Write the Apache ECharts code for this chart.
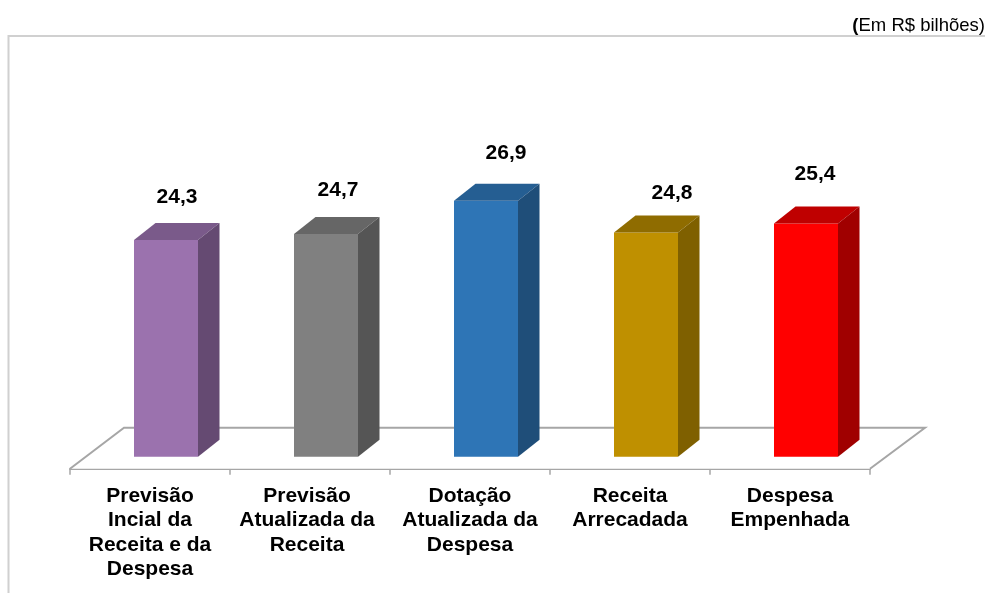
<!DOCTYPE html>
<html>
<head>
<meta charset="utf-8">
<style>html,body{margin:0;padding:0;background:#fff}#c{width:985px;height:593px}</style>
<script src="https://cdn.jsdelivr.net/npm/echarts@6/dist/echarts.min.js"></script>
</head>
<body>
<div id="c"></div>
<script>
const categories = [
  'Previsão\nIncial da\nReceita e da\nDespesa',
  'Previsão\nAtualizada da\nReceita',
  'Dotação\nAtualizada da\nDespesa',
  'Receita\nArrecadada',
  'Despesa\nEmpenhada'
];
const values = [24.3, 24.7, 26.9, 24.8, 25.4];
const valueLabels = ['24,3', '24,7', '26,9', '24,8', '25,4'];
const frontColors = ['#9B72AE', '#808080', '#2E75B6', '#BF9000', '#FF0000'];
const topColors = ['#7A5A8A', '#666666', '#255E92', '#8F6C00', '#BF0000'];
const sideColors = ['#654A72', '#555555', '#1F4E79', '#7F6000', '#A00000'];
const labelShiftX = [11, 12, 20, 26, 9];
const labelRise = [43, 44, 47, 39, 49];
const categoryRightPad = [0, 6, 0, 0, 0];

const DX = 21.5, DY = 17, BAR_W = 64, BAR_SHIFT = 16, LINE = '#A6A6A6';

const chart = echarts.init(document.getElementById('c'), null, {renderer: 'canvas'});
chart.setOption({
  animation: false,
  backgroundColor: '#fff',
  grid: {left: 70, width: 800, top: 153.7, height: 303},
  xAxis: {
    type: 'category',
    data: categories.map((c, i) => ({value: c, textStyle: {padding: [0, categoryRightPad[i], 0, 0]}})),
    offset: 12,
    axisLine: {show: true, lineStyle: {color: LINE, width: 2}},
    axisTick: {show: true, length: 6, lineStyle: {color: LINE, width: 1.5}},
    axisLabel: {
      interval: 0, margin: 15, color: '#000',
      fontFamily: 'Liberation Sans', fontWeight: 'bold', fontSize: 21, lineHeight: 24.5
    }
  },
  yAxis: {type: 'value', min: 10, max: 30, show: false, splitLine: {show: false}},
  graphic: [
    {type: 'polyline', silent: true, z: 0, shape: {points: [[985, 36], [8.5, 36], [8.5, 593]]},
     style: {stroke: '#D0D0D0', lineWidth: 2, fill: null}},
    {type: 'text', silent: true, right: 0, top: 16, style: {
      rich: {
        b: {font: 'bold 18.5px "Liberation Sans"', fill: '#000'},
        n: {font: '18.5px "Liberation Sans"', fill: '#000'}
      },
      text: '{b|(}{n|Em R$ bilhões)}'
    }}
  ],
  series: [
    {
      type: 'custom',
      coordinateSystem: 'cartesian2d',
      silent: true,
      z: 1,
      data: [[0, 10]],
      clip: false,
      renderItem(params, api) {
        const base = api.coord([0, 10])[1];
        const cs = params.coordSys;
        const x0 = cs.x, x1 = cs.x + cs.width, front = base + 12, back = base - 29;
        return {
          type: 'polyline',
          shape: {points: [[x0, front], [x0 + 54, back], [x1 + 55, back], [x1, front]]},
          style: {stroke: LINE, lineWidth: 2, fill: '#fff'}
        };
      }
    },
    {
      type: 'custom',
      coordinateSystem: 'cartesian2d',
      silent: true,
      z: 2,
      clip: false,
      encode: {x: 0, y: 1},
      data: values.map((v, i) => [i, v]),
      renderItem(params, api) {
        const i = params.dataIndex;
        const top = api.coord([api.value(0), api.value(1)]);
        const bottom = api.coord([api.value(0), 10]);
        const l = top[0] + BAR_SHIFT - BAR_W / 2, r = l + BAR_W;
        const t = top[1], b = bottom[1];
        const poly = (pts, fill) => ({type: 'polygon', shape: {points: pts}, style: {fill}});
        return {
          type: 'group',
          children: [
            poly([[l, t], [r, t], [r, b], [l, b]], frontColors[i]),
            poly([[l, t], [l + DX, t - DY], [r + DX, t - DY], [r, t]], topColors[i]),
            poly([[r, t], [r + DX, t - DY], [r + DX, b - DY], [r, b]], sideColors[i]),
            {type: 'text', style: {
              x: top[0] + BAR_SHIFT + labelShiftX[i],
              y: t - labelRise[i],
              text: valueLabels[i],
              align: 'center', verticalAlign: 'middle',
              font: 'bold 21px "Liberation Sans"', fill: '#000'
            }}
          ]
        };
      }
    }
  ]
});
</script>
</body>
</html>
